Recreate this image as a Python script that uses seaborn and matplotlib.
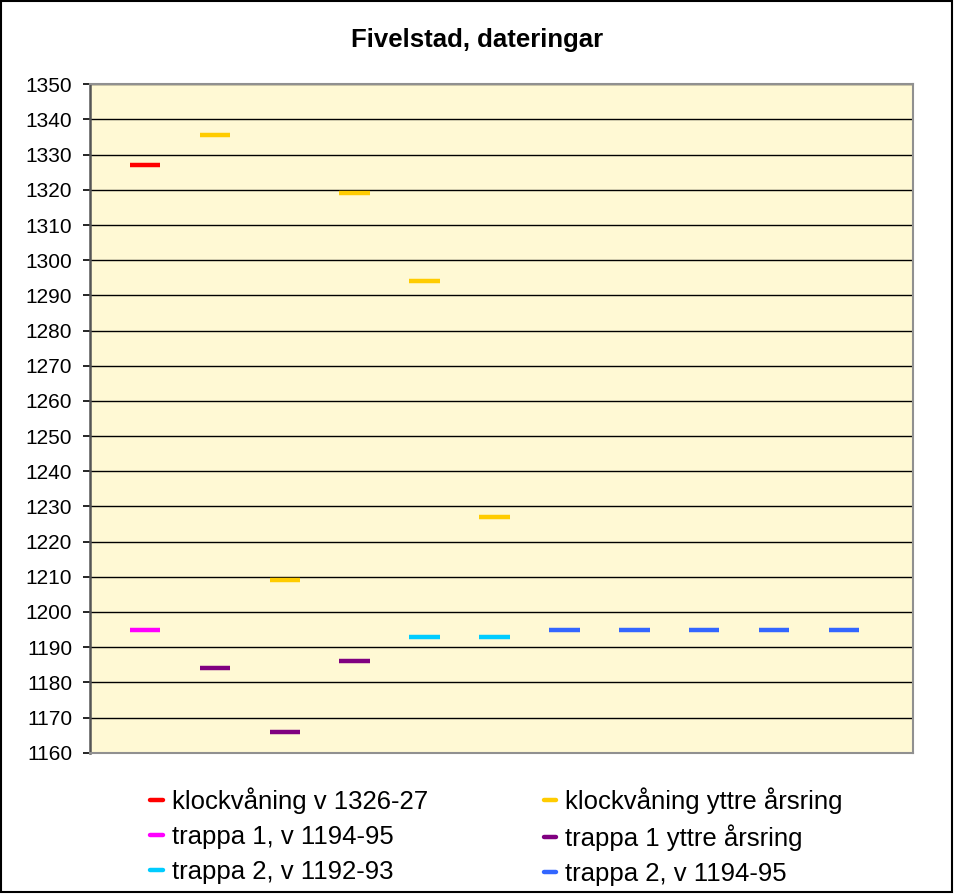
import numpy as np
import pandas as pd
import matplotlib
matplotlib.use("Agg")
import matplotlib.pyplot as plt
from matplotlib.lines import Line2D
from matplotlib.patches import Rectangle
import seaborn as sns

nan = np.nan
prov = list(range(1, 12))

series_names = ["klockvåning v 1326-27", "klockvåning yttre årsring",
                "trappa 1, v 1194-95", "trappa 1 yttre årsring",
                "trappa 2, v 1192-93", "trappa 2, v 1194-95"]
klock_v = [1327, nan, nan, nan, nan, nan, nan, nan, nan, nan, nan]
klock_yttre = [nan, 1335.5, 1209, 1319, 1294, 1227, nan, nan, nan, nan, nan]
trappa1_v = [1195, nan, nan, nan, nan, nan, nan, nan, nan, nan, nan]
trappa1_yttre = [nan, 1184, 1166, 1186, nan, nan, nan, nan, nan, nan, nan]
trappa2_v = [nan, nan, nan, nan, 1193, 1193, nan, nan, nan, nan, nan]
trappa2_v2 = [nan, nan, nan, nan, nan, nan, 1195, 1195, 1195, 1195, 1195]
colors = ["#FF0000", "#FFCC00", "#FF00FF", "#800080", "#00CCFF", "#3366FF"]

df = pd.DataFrame({"prov": prov})
for name, vals in zip(series_names, [klock_v, klock_yttre, trappa1_v, trappa1_yttre, trappa2_v, trappa2_v2]):
    df[name] = vals
df = df.melt(id_vars="prov", var_name="serie", value_name="år").dropna()

sns.set_style("white")
plt.rcParams["font.family"] = ["Liberation Sans", "DejaVu Sans"]
plt.rcParams["text.color"] = "black"
plt.rcParams["ytick.color"] = "black"
plt.rcParams["ytick.labelcolor"] = "black"

fig = plt.figure(figsize=(9.55, 8.94), dpi=100)
ax = fig.add_axes([89.5 / 955, 1 - 752.7 / 894, (913 - 89.5) / 955, (752.7 - 84.3) / 894])
ax.set_facecolor("#FFF9D4")

palette = dict(zip(series_names, colors))
sns.scatterplot(data=df, x="prov", y="år", hue="serie", palette=palette,
                marker="_", s=22 ** 2, linewidth=3.2, legend=False, ax=ax, zorder=3)

ax.set_xlim(0.206, 11.987)
ax.set_ylim(1160, 1350)
ax.set_yticks(np.arange(1160, 1351, 10))
ax.set_xticks([])
ax.set_xlabel("")
ax.set_ylabel("")
ax.grid(axis="y", color="black", lw=1)
ax.set_axisbelow(True)
ax.tick_params(axis="y", direction="out", length=5, width=1.2, color="black",
               labelsize=15, pad=7.5, left=True)
for s in ["top", "right", "bottom"]:
    ax.spines[s].set_color("#909090")
    ax.spines[s].set_linewidth(1.5)
ax.spines["left"].set_color("#555555")
ax.spines["left"].set_linewidth(1.8)

fig.text(0.5, 1 - 40 / 894, "Fivelstad, dateringar", ha="center", va="center",
         fontsize=18.5, fontweight="bold", color="black")

order = [0, 2, 4, 1, 3, 5]
handles = [Line2D([0], [0], color=colors[i], lw=3.2) for i in order]
labels = [series_names[i] for i in order]
fig.legend(handles, labels, ncol=2, loc="upper left",
           bbox_to_anchor=(150 / 955, 1 - 787 / 894), frameon=False,
           fontsize=18.5, handlelength=0.5, handletextpad=0.35,
           labelspacing=0.43, columnspacing=4.5, borderpad=0, borderaxespad=0,
           labelcolor="black")

fig.patches.append(Rectangle((0.001, 0.002), 0.996, 0.997, transform=fig.transFigure,
                             fill=False, edgecolor="black", lw=1.5))

fig.savefig("out.png", dpi=100)
